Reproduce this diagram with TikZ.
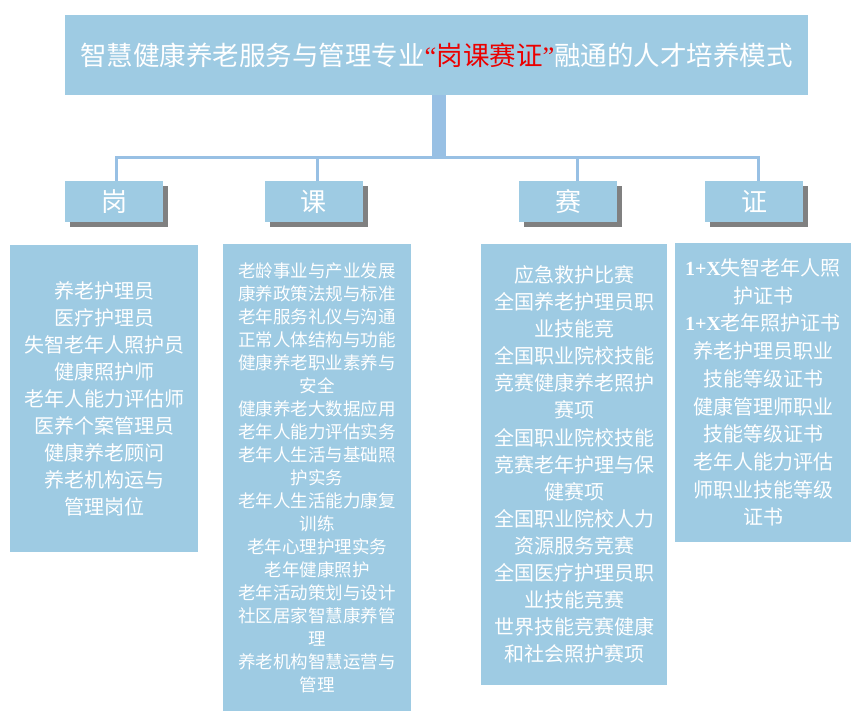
\documentclass[tikz,border=0pt]{standalone}
\usepackage{fontspec}
\setmainfont{Noto Sans CJK SC}
\newfontfamily\latinserif{Liberation Serif}
\usepackage{xcolor}
\usetikzlibrary{shadows}
\definecolor{boxblue}{RGB}{158,203,227}
\definecolor{linkblue}{RGB}{152,192,228}
\definecolor{shadowgray}{RGB}{128,128,128}
\definecolor{titlered}{RGB}{235,0,0}

\begin{document}
\begin{tikzpicture}[x=1pt,y=-1pt,
  panel/.style={fill=boxblue,text=white,inner sep=0pt,align=center},
  headbox/.style={panel,minimum width=98pt,minimum height=41pt,font=\fontsize{26}{30}\selectfont,
    drop shadow={shadow xshift=5pt,shadow yshift=-5pt,fill=shadowgray,opacity=1}},
  listbox/.style 2 args={panel,minimum width=#1,minimum height=#2},
  link/.style={linkblue,line width=3pt},
  mainbar/.style={linkblue,line width=14pt}]
\fill[white] (0,0) rectangle (851,713);
\useasboundingbox (0,0) rectangle (851,713);

\node[panel,minimum width=743pt,minimum height=80pt,font=\fontsize{26.5}{30}\selectfont] (title) at (436.5,55)
  {智慧健康养老服务与管理专业{\color{titlered}{\latinserif “}岗课赛证{\latinserif ”}}融通的人才培养模式};

\coordinate (hub) at (439,157);
\draw[mainbar] (title.south -| hub) -- (hub);

\node[headbox] (gang) at (114,201.5) {岗};
\node[headbox] (ke) at (313.5,201.5) {课};
\node[headbox] (sai) at (568,201.5) {赛};
\node[headbox] (zheng) at (754,201.5) {证};

\foreach \n/\d in {gang/2,ke/3.5,sai/9,zheng/4}{
  \coordinate (\n Top) at ([xshift=\d pt]\n.north);
  \draw[link] (\n Top) -- (\n Top |- hub);
}
\draw[link,line cap=rect] (gangTop |- hub) -- (zhengTop |- hub);

\node[listbox={188pt}{307pt},font=\fontsize{20}{27}\selectfont] (gangList) at (104,398.5)
  {养老护理员\\医疗护理员\\失智老年人照护员\\健康照护师\\老年人能力评估师\\医养个案管理员\\健康养老顾问\\养老机构运与\\管理岗位};

\node[listbox={188pt}{467pt},font=\fontsize{17.5}{23}\selectfont] (keList) at (317,477.5)
  {老龄事业与产业发展\\康养政策法规与标准\\老年服务礼仪与沟通\\正常人体结构与功能\\健康养老职业素养与\\安全\\健康养老大数据应用\\老年人能力评估实务\\老年人生活与基础照\\护实务\\老年人生活能力康复\\训练\\老年心理护理实务\\老年健康照护\\老年活动策划与设计\\社区居家智慧康养管\\理\\养老机构智慧运营与\\管理};

\node[listbox={186pt}{441pt},font=\fontsize{20}{27.1}\selectfont] (saiList) at (574,464.5)
  {应急救护比赛\\全国养老护理员职\\业技能竞\\全国职业院校技能\\竞赛健康养老照护\\赛项\\全国职业院校技能\\竞赛老年护理与保\\健赛项\\全国职业院校人力\\资源服务竞赛\\全国医疗护理员职\\业技能竞赛\\世界技能竞赛健康\\和社会照护赛项};

\node[listbox={176pt}{299pt},font=\fontsize{20}{27.7}\selectfont] (zhengList) at (763,392.5)
  {{\latinserif\bfseries 1+X}失智老年人照\\护证书\\{\latinserif\bfseries 1+X}老年照护证书\\养老护理员职业\\技能等级证书\\健康管理师职业\\技能等级证书\\老年人能力评估\\师职业技能等级\\证书};
\end{tikzpicture}
\end{document}
